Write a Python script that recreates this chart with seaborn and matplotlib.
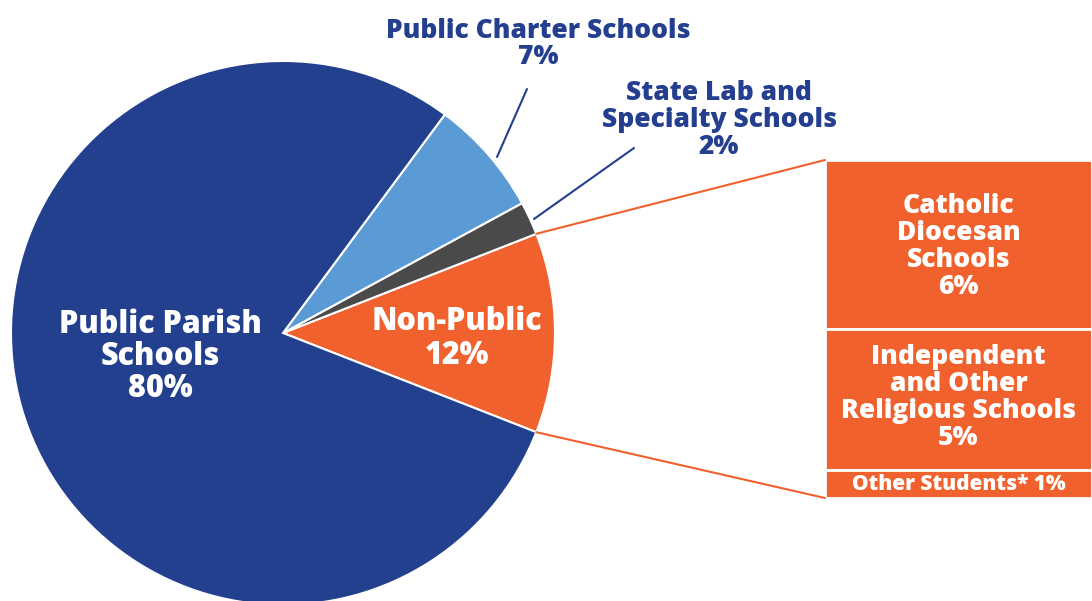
import numpy as np
import matplotlib
matplotlib.use("Agg")
import matplotlib.pyplot as plt
import seaborn as sns

# Enrollment shares (percent)
pie_labels = ["Non-Public", "State Lab and Specialty Schools", "Public Charter Schools", "Public Parish Schools"]
pie_values = [12, 2, 7, 80]
pie_colors = ["#F1612E", "#4A4A4A", "#5B9BD5", "#23408E"]

# Non-public breakdown (percent), top to bottom
np_labels = ["Catholic\nDiocesan\nSchools", "Independent\nand Other\nReligious Schools", "Other Students*"]
np_values = [6, 5, 1]

NAVY = "#243F8F"
ORANGE = "#F1612E"

sns.set_theme(style="white")
plt.rcParams["font.family"] = ["Open Sans", "DejaVu Sans"]

W, H = 1092, 601
fig = plt.figure(figsize=(W / 100, H / 100), dpi=100)
ax = fig.add_axes([0, 0, 1, 1])

cx, cy, r = 283, H - 333, 272
total = sum(pie_values)
orange_span = 360 * pie_values[0] / total
start = -orange_span / 2

ax.pie(pie_values, colors=pie_colors, startangle=start, counterclock=True,
       center=(cx, cy), radius=r,
       wedgeprops=dict(edgecolor="white", linewidth=1.5))

# Stacked breakdown bar
bar_x0, bar_x1 = 825, 1092
bar_top, bar_bottom = H - 160, H - 498
unit = (bar_top - bar_bottom) / sum(np_values)
bx = (bar_x0 + bar_x1) / 2
bw = bar_x1 - bar_x0
top = bar_top
bar_mid = []
for v in np_values:
    h = v * unit
    ax.bar(bx, h, bottom=top - h, width=bw, color=ORANGE, edgecolor="white", linewidth=2)
    bar_mid.append(top - h / 2)
    top -= h

# Connector lines from the non-public wedge to the bar
a1 = np.deg2rad(start + orange_span)
a0 = np.deg2rad(start)
ax.plot([cx + r * np.cos(a1), bar_x0], [cy + r * np.sin(a1), bar_top], color=ORANGE, lw=1.5)
ax.plot([cx + r * np.cos(a0), bar_x0], [cy + r * np.sin(a0), bar_bottom], color=ORANGE, lw=1.5)

txt = dict(ha="center", va="center", fontweight="heavy")

# Labels inside the pie
ax.text(160, H - 357, f"Public Parish\nSchools\n{pie_values[3]}%", color="white", fontsize=22,
        linespacing=1.0, **txt)
ax.text(457, H - 339, f"Non-Public\n{pie_values[0]}%", color="white", fontsize=22, linespacing=1.05, **txt)

# Outside labels with leader lines
ax.text(538, H - 44, f"Public Charter Schools\n{pie_values[2]}%", color=NAVY, fontsize=19,
        linespacing=1.05, **txt)
ax.plot([527, 497], [H - 89, H - 157], color=NAVY, lw=1.5)
ax.text(719, H - 120, f"State Lab and\nSpecialty Schools\n{pie_values[1]}%", color=NAVY, fontsize=19,
        linespacing=1.05, **txt)
ax.plot([634, 534], [H - 148, H - 219], color=NAVY, lw=1.5)

# Labels inside the breakdown bar
ax.text(bx, bar_mid[0] - 2, f"{np_labels[0]}\n{np_values[0]}%", color="white", fontsize=19,
        linespacing=1.05, **txt)
ax.text(bx, bar_mid[1] + 2, f"{np_labels[1]}\n{np_values[1]}%", color="white", fontsize=19,
        linespacing=1.05, **txt)
ax.text(bx, bar_mid[2] - 1, f"{np_labels[2]} {np_values[2]}%", color="white", fontsize=15, **txt)

ax.set_xlim(0, W)
ax.set_ylim(0, H)
ax.set_aspect("equal")
ax.axis("off")

fig.savefig("out.png", dpi=100)
